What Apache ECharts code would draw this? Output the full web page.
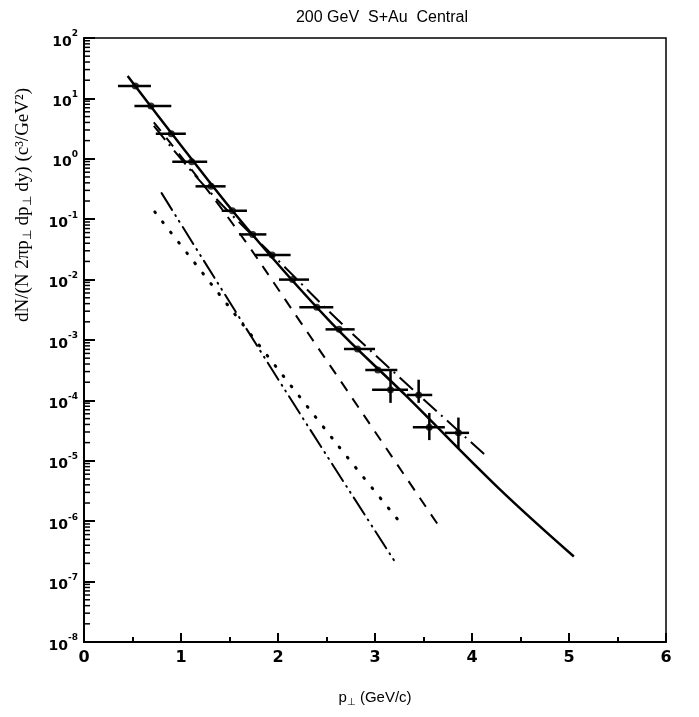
<!DOCTYPE html>
<html>
<head>
<meta charset="UTF-8">
<title>200 GeV S+Au Central</title>
<script src="https://cdn.jsdelivr.net/npm/echarts@6.0.0/dist/echarts.min.js"></script>
<style>
  body { margin: 0; background: #fff; }
  #chart { width: 699px; height: 717px; }
</style>
</head>
<body>
<div id="chart"></div>
<script>
// measured points: p, value, x-bar low/high, y-bar low/high (null = none)
var ptP   = [0.53, 0.69, 0.90, 1.11, 1.31, 1.53, 1.74, 1.94, 2.15, 2.40, 2.63, 2.82, 3.03, 3.16, 3.45, 3.56, 3.86];
var ptY   = [16, 7.5, 2.6, 0.89, 0.35, 0.138, 0.056, 0.0255, 0.010, 0.0035, 0.0015, 7.1e-4, 3.2e-4, 1.5e-4, 1.23e-4, 3.6e-5, 2.9e-5];
var ptXlo = [0.35, 0.52, 0.74, 0.91, 1.15, 1.42, 1.60, 1.76, 2.01, 2.22, 2.49, 2.68, 2.90, 2.97, 3.33, 3.39, 3.72];
var ptXhi = [0.69, 0.90, 1.05, 1.27, 1.46, 1.68, 1.88, 2.13, 2.32, 2.57, 2.79, 3.00, 3.23, 3.34, 3.59, 3.72, 3.97];
var ptYlo = [null, null, null, null, null, null, null, null, null, null, null, null, null, 9.1e-5, 9.1e-5, 2.2e-5, 1.6e-5];
var ptYhi = [null, null, null, null, null, null, null, null, null, null, null, null, null, 3.2e-4, 2.2e-4, 6.2e-5, 5.2e-5];

// model curves
var solidP   = [0.45, 1.0, 1.68, 2.54, 3.33, 4.26, 5.05];
var solidY   = [23.4, 1.66, 0.0708, 2.0e-3, 1.15e-4, 3.7e-6, 2.6e-7];
var dashDotP = [0.72, 1.3, 2.04, 2.76, 4.16];
var dashDotY = [3.5, 0.28, 0.018, 1.3e-3, 1.15e-5];
var dashedP  = [0.72, 1.48, 2.23, 3.67];
var dashedY  = [4.0, 0.11, 2.0e-3, 7.8e-7];
var dottedP  = [0.73, 2.62, 3.29];
var dottedY  = [0.132, 1.78e-5, 8.3e-7];
var dddP     = [0.80, 2.07, 3.20];
var dddY     = [0.27, 1.5e-4, 2.2e-7];

var xTicks = [0, 1, 2, 3, 4, 5, 6];
var yDecades = [-8, -7, -6, -5, -4, -3, -2, -1, 0, 1, 2];

function pairs(xs, ys) {
  return xs.map(function (x, i) { return [x, ys[i]]; });
}

var errData = ptP.map(function (p, i) {
  return [p, ptY[i], ptXlo[i], ptXhi[i], ptYlo[i] == null ? '-' : ptYlo[i], ptYhi[i] == null ? '-' : ptYhi[i]];
});

// minor ticks of the log axis, 2..9 in each decade
var minorTicks = [];
yDecades.slice(0, -1).forEach(function (d) {
  for (var k = 2; k <= 9; k++) minorTicks.push([0, k * Math.pow(10, d)]);
});

var chart = echarts.init(document.getElementById('chart'));

var option = {
  animation: false,
  backgroundColor: '#fff',
  title: {
    text: '200 GeV  S+Au  Central',
    left: 377, top: 5, textAlign: 'center',
    textStyle: { fontFamily: 'Liberation Sans', fontSize: 16, fontWeight: 'normal', color: '#000' }
  },
  grid: { left: 84, right: 33, top: 38, bottom: 75, show: true, borderColor: '#000', borderWidth: 1.5 },
  xAxis: {
    type: 'value', min: 0, max: 6, interval: 1,
    axisLine: { lineStyle: { color: '#000', width: 2 } },
    axisTick: { inside: true, length: 9, lineStyle: { width: 2, color: '#000' } },
    minorTick: { show: true, splitNumber: 2, length: 5, lineStyle: { width: 2, color: '#000' } },
    splitLine: { show: false },
    axisLabel: {
      margin: 8, color: '#000', fontFamily: 'DejaVu Sans', fontWeight: 'bold', fontSize: 16,
      formatter: function (v) { return xTicks.indexOf(v) >= 0 ? String(v) : ''; }
    },
    name: '{p|p}{s|⊥}{p| (GeV/c)}',
    nameLocation: 'middle', nameGap: 47,
    nameTextStyle: {
      color: '#000',
      rich: {
        p: { fontFamily: 'Liberation Sans', fontSize: 15, color: '#000' },
        s: { fontFamily: 'Liberation Sans', fontSize: 10, color: '#000', padding: [8, 0, 0, 0] }
      }
    }
  },
  yAxis: {
    type: 'log', logBase: 10, min: 1e-8, max: 100, interval: 1,
    axisLine: { show: true, lineStyle: { color: '#000', width: 2 } },
    axisTick: { show: true, inside: true, length: 11, lineStyle: { width: 2, color: '#000' } },
    splitLine: { show: false },
    axisLabel: {
      margin: 6, color: '#000',
      formatter: function (v) {
        var e = Math.round(Math.log(v) / Math.LN10);
        return '{b|10}{e|' + e + '}';
      },
      rich: {
        b: { fontFamily: 'DejaVu Sans', fontWeight: 'bold', fontSize: 14, color: '#000', padding: [8, 0, 0, 0] },
        e: { fontFamily: 'DejaVu Sans', fontWeight: 'bold', fontSize: 9, color: '#000', padding: [0, 0, 8, 0] }
      }
    }
  },
  graphic: [{
    type: 'text',
    x: 23, y: 205, rotation: Math.PI / 2,
    style: {
      text: '{t|dN/(N 2πp}{s|⊥}{t| dp}{s|⊥}{t| dy) (c³/GeV²)}',
      align: 'center', verticalAlign: 'middle',
      rich: {
        t: { fontFamily: 'Liberation Serif', fontSize: 19, fill: '#000' },
        s: { fontFamily: 'Liberation Serif', fontSize: 12, fill: '#000', padding: [10, 0, 0, 0] }
      }
    }
  }],
  series: [
    {
      type: 'custom',
      data: minorTicks,
      silent: true,
      renderItem: function (params, api) {
        var c = api.coord([api.value(0), api.value(1)]);
        return { type: 'line', shape: { x1: c[0], y1: c[1], x2: c[0] + 6, y2: c[1] }, style: { stroke: '#000', lineWidth: 1.5 } };
      }
    },
    {
      name: 'fit', type: 'line', data: pairs(solidP, solidY), smooth: 0.4, symbol: 'none',
      lineStyle: { color: '#000', width: 2.5 }
    },
    {
      name: 'dash-dot', type: 'line', data: pairs(dashDotP, dashDotY), smooth: 0.4, symbol: 'none',
      lineStyle: { color: '#000', width: 2, type: [18, 6, 2, 6] }
    },
    {
      name: 'dashed', type: 'line', data: pairs(dashedP, dashedY), smooth: 0.4, symbol: 'none',
      lineStyle: { color: '#000', width: 2, type: [11, 9] }
    },
    {
      name: 'dotted', type: 'line', data: pairs(dottedP, dottedY), smooth: 0.3, symbol: 'none',
      lineStyle: { color: '#000', width: 3, type: [1, 12], cap: 'round' }
    },
    {
      name: 'dash-dot-dot', type: 'line', data: pairs(dddP, dddY), smooth: 0.3, symbol: 'none',
      lineStyle: { color: '#000', width: 2, type: [20, 6, 1, 6, 1, 6], cap: 'round' }
    },
    {
      type: 'custom',
      data: errData,
      encode: { x: 0, y: 1 },
      renderItem: function (params, api) {
        var p = api.value(0), y = api.value(1);
        var a = api.coord([api.value(2), y]);
        var b = api.coord([api.value(3), y]);
        var kids = [{ type: 'line', shape: { x1: a[0], y1: a[1], x2: b[0], y2: b[1] }, style: { stroke: '#000', lineWidth: 2.5 } }];
        var lo = api.value(4), hi = api.value(5);
        if (!isNaN(lo) && !isNaN(hi)) {
          var c = api.coord([p, lo]), d = api.coord([p, hi]);
          kids.push({ type: 'line', shape: { x1: c[0], y1: c[1], x2: d[0], y2: d[1] }, style: { stroke: '#000', lineWidth: 2.5 } });
        }
        return { type: 'group', children: kids };
      }
    },
    {
      type: 'scatter', data: pairs(ptP, ptY), symbol: 'circle', symbolSize: 7,
      itemStyle: { color: '#000' }
    }
  ]
};

chart.setOption(option);
</script>
</body>
</html>
